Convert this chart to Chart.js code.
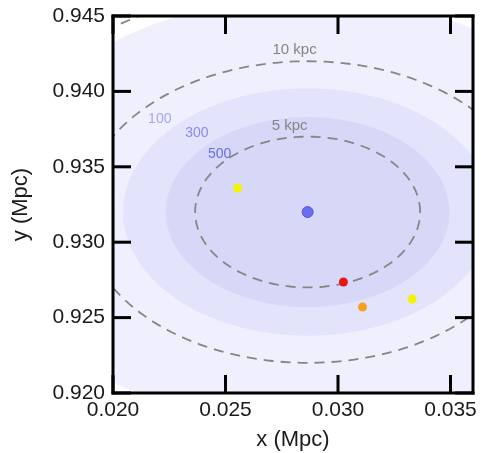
<!DOCTYPE html>
<html>
<head>
<meta charset="utf-8">
<script src="https://cdn.jsdelivr.net/npm/chart.js@4.4.0/dist/chart.umd.min.js"></script>
<style>
  html, body { margin: 0; padding: 0; background: #fff; }
  #wrap { width: 481px; height: 453px; }
</style>
</head>
<body>
<div id="wrap"><canvas id="offsets"></canvas></div>
<script>
// halo centre and the sources around it (Mpc)
const centreX = 0.02865
const centreY = 0.9320

const srcX = [0.02554, 0.03024, 0.03109, 0.03330]
const srcY = [0.93359, 0.92736, 0.92570, 0.92623]
const srcColors = ["#f4f400", "#e81515", "#f5a020", "#f4f400"]

// density contour levels and their radius (Mpc)
const levels = [100, 300, 500]
const levelRadius = [0.0142, 0.0082, 0.0063]
const levelFill = ["#efeffd", "#e3e3fb", "#d7d7f8"]
const levelLabelX = [0.02208, 0.02373, 0.02474]
const levelLabelY = [0.93817, 0.93724, 0.93585]
const levelLabelColor = ["#a4a4f2", "#8a8aee", "#6c6ce8"]

// projected distance rings (kpc)
const rings = [5, 10, 15]
const ringLabels = ["5 kpc", "10 kpc"]
const ringLabelX = [0.02785, 0.02807]
const ringLabelY = [0.93771, 0.94275]

const xTicks = [0.020, 0.025, 0.030, 0.035]
const yTicks = [0.920, 0.925, 0.930, 0.935, 0.940, 0.945]

// closed outline of a circle around the centre, radius in Mpc
function circle(r) {
  const pts = []
  for (let i = 0; i <= 240; i++) {
    const a = (i / 240) * 2 * Math.PI
    pts.push({ x: centreX + r * Math.cos(a), y: centreY + r * Math.sin(a) })
  }
  return pts
}

const datasets = []

// sources on top
for (let i = 0; i < srcX.length; i++) {
  datasets.push({
    data: [{ x: srcX[i], y: srcY[i] }],
    pointRadius: 4.5,
    pointBackgroundColor: srcColors[i],
    pointBorderColor: srcColors[i],
    pointBorderWidth: 0,
  })
}
datasets.push({
  data: [{ x: centreX, y: centreY }],
  pointRadius: 5.5,
  pointBackgroundColor: "#6b6bf3",
  pointBorderColor: "#5656e4",
  pointBorderWidth: 1,
})

rings.forEach((kpc) => {
  datasets.push({
    data: circle(kpc / 1000),
    showLine: true,
    pointRadius: 0,
    borderColor: "#868686",
    borderWidth: 1.8,
    borderDash: [10, 7],
    fill: false,
  })
})

// filled contours, innermost first so it ends up drawn last
for (let i = levels.length - 1; i >= 0; i--) {
  datasets.push({
    data: circle(levelRadius[i]),
    showLine: true,
    pointRadius: 0,
    borderWidth: 0,
    borderColor: levelFill[i],
    backgroundColor: levelFill[i],
    fill: "shape",
  })
}

const fontFamily = "'Liberation Sans', Arial, sans-serif"

const annotations = {
  id: "annotations",
  afterDatasetsDraw(chart) {
    const { ctx, scales } = chart
    ctx.save()
    ctx.textAlign = "center"
    ctx.textBaseline = "middle"
    ctx.font = "15px " + fontFamily
    ctx.fillStyle = "#858585"
    ringLabels.forEach((t, i) => {
      ctx.fillText(t, scales.x.getPixelForValue(ringLabelX[i]), scales.y.getPixelForValue(ringLabelY[i]))
    })
    ctx.font = "14px " + fontFamily
    levels.forEach((lv, i) => {
      ctx.fillStyle = levelLabelColor[i]
      ctx.fillText(String(lv), scales.x.getPixelForValue(levelLabelX[i]), scales.y.getPixelForValue(levelLabelY[i]))
    })
    ctx.restore()
  },
}

// thick box with inward ticks on all four sides, plus the tick labels
const frame = {
  id: "frame",
  afterDraw(chart) {
    const { ctx, chartArea: a, scales } = chart
    const len = 18
    const w = 3
    const h = w / 2
    ctx.save()
    ctx.setTransform(1, 0, 0, 1, 0, 0)
    ctx.globalAlpha = 1
    ctx.globalCompositeOperation = "source-over"
    ctx.fillStyle = "#000"
    // box edges
    ctx.fillRect(a.left - h, a.top - h, a.right - a.left + w, w)
    ctx.fillRect(a.left - h, a.bottom - h, a.right - a.left + w, w)
    ctx.fillRect(a.left - h, a.top - h, w, a.bottom - a.top + w)
    ctx.fillRect(a.right - h, a.top - h, w, a.bottom - a.top + w)
    // inward ticks
    xTicks.forEach((v) => {
      const px = scales.x.getPixelForValue(v)
      ctx.fillRect(px - h, a.bottom - len, w, len)
      ctx.fillRect(px - h, a.top, w, len)
    })
    yTicks.forEach((v) => {
      const py = scales.y.getPixelForValue(v)
      ctx.fillRect(a.left, py - h, len, w)
      ctx.fillRect(a.right - len, py - h, len, w)
    })

    ctx.fillStyle = "#1a1a1a"
    ctx.font = "21px " + fontFamily
    ctx.textAlign = "center"
    ctx.textBaseline = "top"
    xTicks.forEach((v) => {
      ctx.fillText(v.toFixed(3), scales.x.getPixelForValue(v), a.bottom + 7)
    })
    ctx.textAlign = "right"
    ctx.textBaseline = "middle"
    yTicks.forEach((v) => {
      ctx.fillText(v.toFixed(3), a.left - 8, scales.y.getPixelForValue(v))
    })
    ctx.restore()
  },
}

const titleFont = { family: fontFamily, size: 22 }

new Chart(document.getElementById("offsets"), {
  type: "scatter",
  data: { datasets: datasets },
  options: {
    responsive: true,
    maintainAspectRatio: false,
    animation: false,
    layout: { padding: { top: 16, right: 8, left: 0, bottom: 0 } },
    plugins: { legend: { display: false }, tooltip: { enabled: false } },
    scales: {
      x: {
        min: 0.020,
        max: 0.036,
        afterFit: (s) => { s.height = 60 },
        grid: { display: false, drawTicks: false },
        border: { display: false },
        ticks: { display: false },
        title: { display: true, text: "x (Mpc)", color: "#1a1a1a", font: titleFont, padding: { top: 0, bottom: 0 } },
      },
      y: {
        min: 0.920,
        max: 0.945,
        afterFit: (s) => { s.width = 113 },
        grid: { display: false, drawTicks: false },
        border: { display: false },
        ticks: { display: false },
        title: { display: true, text: "y (Mpc)", color: "#1a1a1a", font: titleFont, padding: { top: 8, bottom: 0 } },
      },
    },
  },
  plugins: [annotations, frame],
})
</script>
</body>
</html>
